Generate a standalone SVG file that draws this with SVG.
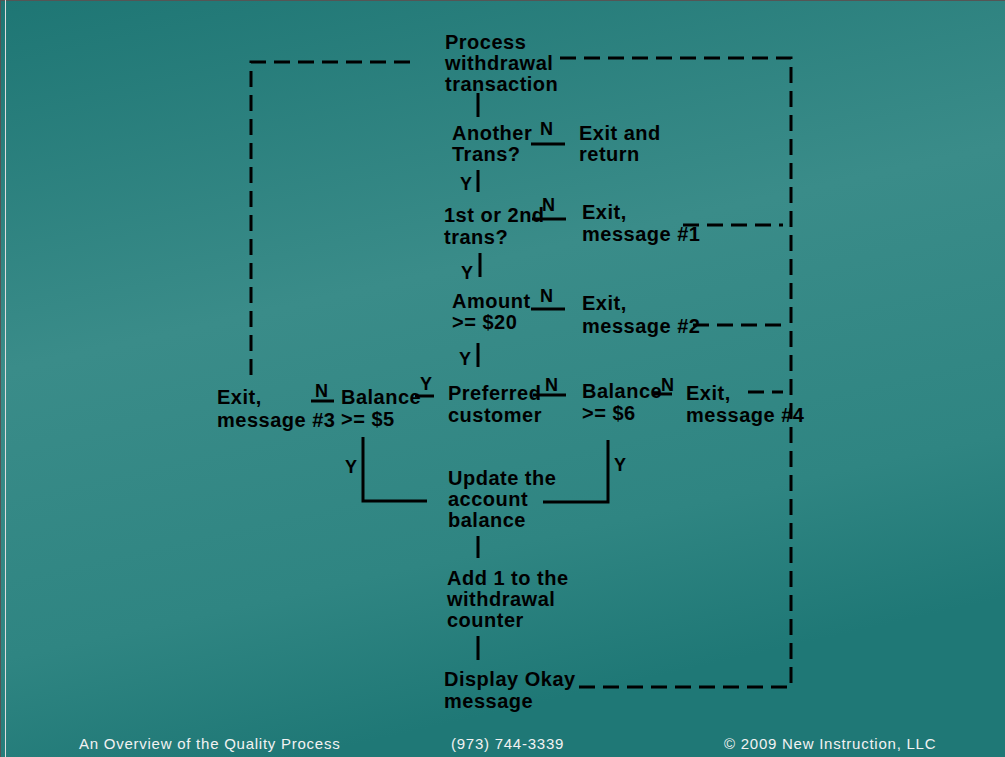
<svg xmlns="http://www.w3.org/2000/svg" width="1005" height="757" viewBox="0 0 1005 757">
<defs>
<linearGradient id="bg" x1="0" y1="0" x2="0.3" y2="1">
<stop offset="0" stop-color="#1e7674"/>
<stop offset="0.45" stop-color="#3a8c89"/>
<stop offset="0.8" stop-color="#2f8582"/>
<stop offset="1" stop-color="#1f7876"/>
</linearGradient>
<style>
.t{font-family:"Liberation Sans",Arial,sans-serif;font-weight:bold;font-size:20px;letter-spacing:0.5px;fill:#000}
.l{font-family:"Liberation Sans",Arial,sans-serif;font-weight:bold;font-size:18px;fill:#000}
.f{font-family:"Liberation Sans",Arial,sans-serif;font-size:15px;letter-spacing:0.75px;fill:#f2f2f2}
.s{stroke:#000;stroke-width:3;fill:none}
.d{stroke:#000;stroke-width:3;fill:none;stroke-dasharray:16 8}
</style>
</defs>
<rect width="1005" height="757" fill="url(#bg)"/>
<line x1="0" y1="0.5" x2="1005" y2="0.5" stroke="#555" stroke-width="1"/>
<line x1="0.5" y1="0" x2="0.5" y2="757" stroke="#555" stroke-width="1"/>
<line x1="5.5" y1="0" x2="5.5" y2="757" stroke="#ddd" stroke-width="1"/>

<g id="connectors">
<line class="s" x1="478" y1="93" x2="478" y2="117"/>
<line class="s" x1="531" y1="144" x2="565" y2="144"/>
<line class="s" x1="478" y1="170" x2="478" y2="192"/>
<line class="s" x1="532" y1="219" x2="566" y2="219"/>
<line class="s" x1="480" y1="253" x2="480" y2="277"/>
<line class="s" x1="531" y1="309" x2="565" y2="309"/>
<line class="s" x1="478" y1="343" x2="478" y2="367"/>
<line class="s" x1="311" y1="401" x2="334" y2="401"/>
<line class="s" x1="415" y1="396" x2="434" y2="396"/>
<line class="s" x1="533" y1="395" x2="566" y2="395"/>
<line class="s" x1="654" y1="394" x2="672" y2="394"/>
<polyline class="s" points="363,437 363,501 427,501"/>
<polyline class="s" points="608,440 608,502 543,502"/>
<line class="s" x1="478" y1="536" x2="478" y2="558"/>
<line class="s" x1="478" y1="636" x2="478" y2="660"/>
<polyline class="d" points="410,62 251,62 251,378"/>
<polyline class="d" points="560,58 791,58 791,687 574,687"/>
<line class="d" x1="683" y1="225" x2="783" y2="225"/>
<line class="d" x1="693" y1="325" x2="783" y2="325"/>
<line class="d" x1="748" y1="392" x2="783" y2="392"/>
</g>

<g id="n-process"><text class="t" x="445" y="49">Process</text><text class="t" x="445" y="70">withdrawal</text><text class="t" x="445" y="91">transaction</text></g>
<g id="n-another"><text class="t" x="452" y="140">Another</text><text class="t" x="452" y="161">Trans?</text></g>
<g id="n-exit-return"><text class="t" x="579" y="140">Exit and</text><text class="t" x="579" y="161">return</text></g>
<g id="n-first"><text class="t" x="444" y="222">1st or 2nd</text><text class="t" x="444" y="244">trans?</text></g>
<g id="n-exit1"><text class="t" x="582" y="219">Exit,</text><text class="t" x="582" y="241">message #1</text></g>
<g id="n-amount"><text class="t" x="452" y="308">Amount</text><text class="t" x="452" y="329">&gt;= $20</text></g>
<g id="n-exit2"><text class="t" x="582" y="310">Exit,</text><text class="t" x="582" y="333">message #2</text></g>
<g id="n-exit3"><text class="t" x="217" y="404">Exit,</text><text class="t" x="217" y="427">message #3</text></g>
<g id="n-bal5"><text class="t" x="341" y="404">Balance</text><text class="t" x="341" y="426">&gt;= $5</text></g>
<g id="n-preferred"><text class="t" x="448" y="400">Preferred</text><text class="t" x="448" y="422">customer</text></g>
<g id="n-bal6"><text class="t" x="582" y="398">Balance</text><text class="t" x="582" y="420">&gt;= $6</text></g>
<g id="n-exit4"><text class="t" x="686" y="400">Exit,</text><text class="t" x="686" y="422">message #4</text></g>
<g id="n-update"><text class="t" x="448" y="485">Update the</text><text class="t" x="448" y="506">account</text><text class="t" x="448" y="527">balance</text></g>
<g id="n-add"><text class="t" x="447" y="585">Add 1 to the</text><text class="t" x="447" y="606">withdrawal</text><text class="t" x="447" y="627">counter</text></g>
<g id="n-display"><text class="t" x="444" y="686">Display Okay</text><text class="t" x="444" y="708">message</text></g>

<g id="labels">
<text class="l" x="540" y="135">N</text>
<text class="l" x="460" y="190">Y</text>
<text class="l" x="542" y="211">N</text>
<text class="l" x="461" y="279">Y</text>
<text class="l" x="540" y="302">N</text>
<text class="l" x="459" y="365">Y</text>
<text class="l" x="315" y="397">N</text>
<text class="l" x="420" y="390">Y</text>
<text class="l" x="545" y="391">N</text>
<text class="l" x="661" y="391">N</text>
<text class="l" x="345" y="473">Y</text>
<text class="l" x="614" y="471">Y</text>
</g>

<g id="footer">
<text class="f" x="79" y="749">An Overview of the Quality Process</text>
<text class="f" x="451" y="749">(973) 744-3339</text>
<text class="f" x="724" y="749">© 2009 New Instruction, LLC</text>
</g>
</svg>
